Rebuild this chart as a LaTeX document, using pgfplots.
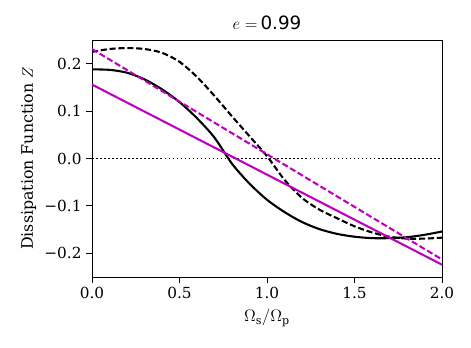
\documentclass[border=0pt]{standalone}
\usepackage{fontspec}
\setmainfont{DejaVu Serif}
\newfontfamily\dvsans{DejaVu Sans}
\usepackage{pgfplots}
\pgfplotsset{compat=1.18}
\definecolor{mpm}{rgb}{0.75,0,0.75}
\begin{document}
\begin{tikzpicture}
% 1 px = 0.72 pt, axis box 350 x 237 px
\useasboundingbox (-66.24pt,-50.4pt) rectangle (272.88pt,199.44pt);
\begin{axis}[
  at={(0,0)}, anchor=south west,
  scale only axis,
  width=252pt, height=170.64pt,
  xmin=0, xmax=2, ymin=-0.25, ymax=0.25,
  xtick={0,0.5,1,1.5,2},
  xticklabels={0.0,0.5,1.0,1.5,2.0},
  ytick={-0.2,-0.1,0,0.1,0.2},
  yticklabels={−0.2,−0.1,0.0,0.1,0.2},
  tick align=outside,
  major tick length=4pt,
  xtick pos=bottom, ytick pos=left,
  tick style={black, line width=0.6pt},
  axis line style={line width=0.6pt},
  tick label style={font=\fontsize{11}{13}\selectfont},
  xlabel={$\Omega_{\rm s}/\Omega_{\rm p}$},
  ylabel={Dissipation Function $Z$},
  xlabel style={font=\fontsize{12}{14}\selectfont,
    at={(axis description cs:0.5,-0.1887)}, anchor=base},
  ylabel style={font=\fontsize{11.4}{13}\selectfont,
    at={(axis description cs:-0.1687,0.5)}, anchor=base},
  title={\fontsize{13.2}{15}\selectfont $e=$\,{\dvsans 0.99}},
  % the default title style already shifts by 6pt; shifts add up
  title style={at={(axis description cs:0.5,1.0422)}, anchor=base, yshift=-6pt},
]
\addplot[black, line width=1.1pt, dash pattern=on 1.1pt off 1.8pt]
  coordinates {(0,0) (2,0)};
\addplot[black, line width=1.5pt, smooth] coordinates {
  (0.0,0.188) (0.1,0.187) (0.2,0.181) (0.3,0.167) (0.4,0.146)
  (0.5,0.119) (0.6,0.085) (0.7,0.044) (0.8,-0.011) (0.9,-0.053)
  (1.0,-0.087) (1.1,-0.113) (1.2,-0.134) (1.3,-0.149) (1.4,-0.159)
  (1.5,-0.165) (1.6,-0.168) (1.7,-0.168) (1.8,-0.166) (1.9,-0.161)
  (2.0,-0.154)};
\addplot[black, line width=1.5pt, smooth, dash pattern=on 4.4pt off 2pt] coordinates {
  (0.0,0.225) (0.1,0.231) (0.2,0.233) (0.3,0.231) (0.4,0.223)
  (0.5,0.204) (0.6,0.172) (0.7,0.132) (0.8,0.089) (0.9,0.047)
  (1.0,0.005) (1.1,-0.045) (1.2,-0.083) (1.3,-0.108) (1.4,-0.126)
  (1.5,-0.143) (1.6,-0.156) (1.7,-0.165) (1.8,-0.169) (1.9,-0.169)
  (2.0,-0.167)};
\addplot[mpm, line width=1.5pt] coordinates {(0,0.156) (2,-0.224)};
\addplot[mpm, line width=1.5pt, dash pattern=on 4.4pt off 2pt] coordinates {(0,0.231) (2,-0.213)};
\end{axis}
\end{tikzpicture}
\end{document}
